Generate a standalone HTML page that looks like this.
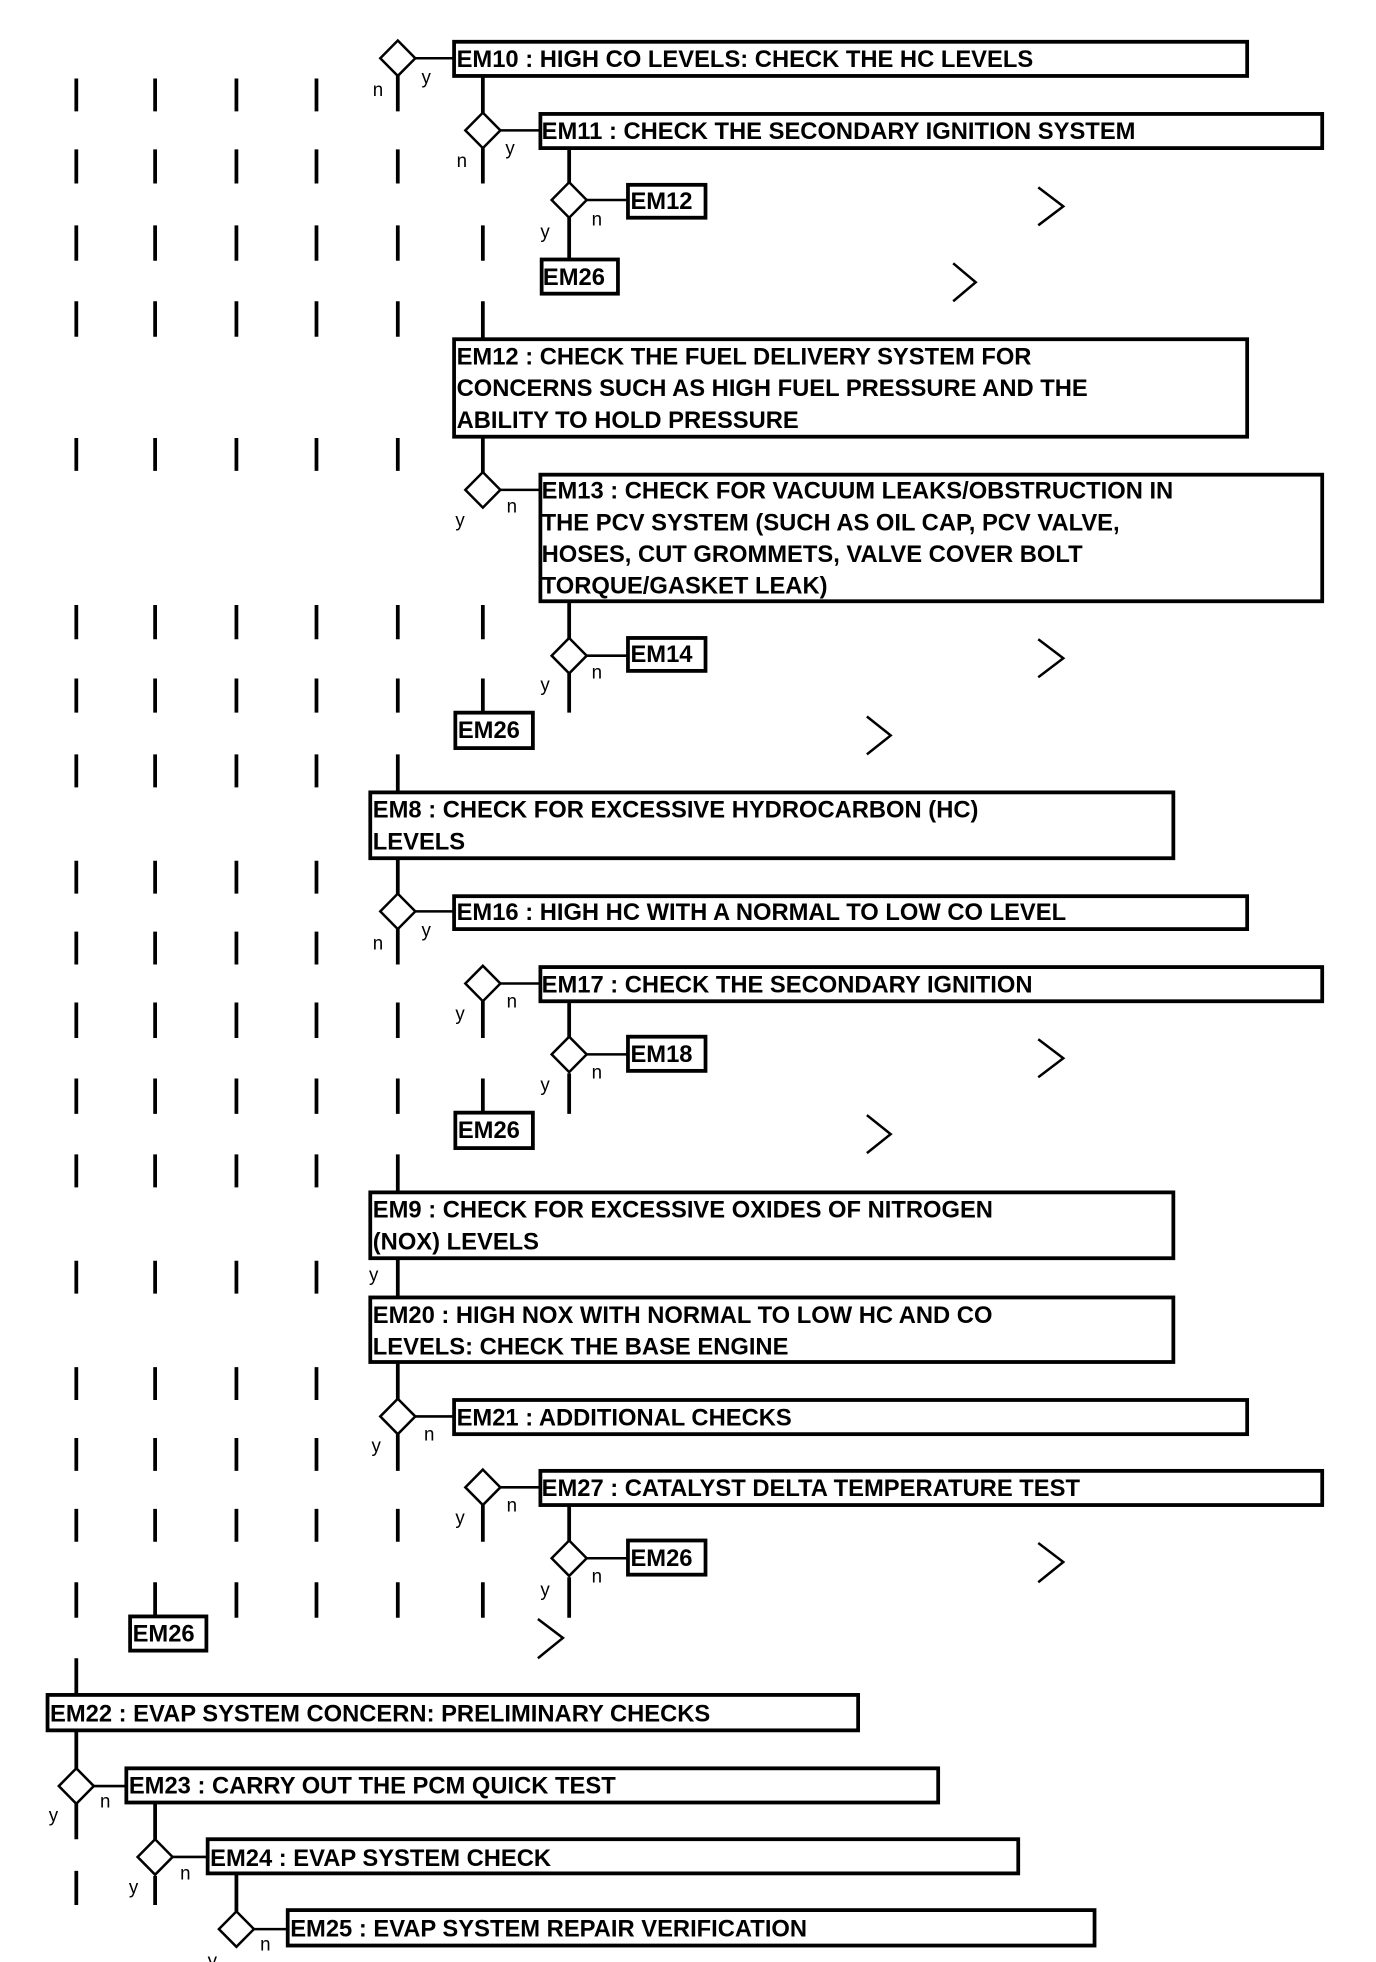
<!DOCTYPE html>
<html><head><meta charset="utf-8"><style>
html,body{margin:0;padding:0;background:#fff;}
svg{display:block;}
text{font-family:"Liberation Sans",Arial,sans-serif;font-weight:bold;font-size:19px;fill:#000;}
.l{font-weight:normal;font-size:15px;}
</style></head><body>
<svg width="1376" height="1962" viewBox="0 0 1100 1550" preserveAspectRatio="none" xmlns="http://www.w3.org/2000/svg">
<g stroke="#000" stroke-width="3" fill="none">
<!-- dashes -->
<path d="
M61 62V88M124 62V88M189 62V88M253 62V88M318 60V88
M61 118V145M124 118V145M189 118V145M253 118V145M318 118V145M386 117V145
M61 178V206M124 178V206M189 178V206M253 178V206M318 178V206M386 178V206
M61 238V266M124 238V266M189 238V266M253 238V266M318 238V266M386 238V268
M61 346V372M124 346V372M189 346V372M253 346V372M318 346V372M386 345V374
M61 478V505M124 478V505M189 478V505M253 478V505M318 478V505M386 478V505
M61 536V563M124 536V563M189 536V563M253 536V563M318 536V563M386 536V563
M61 596V622M124 596V622M189 596V622M253 596V622M318 596V625
M61 680V706M124 680V706M189 680V706M253 680V706M318 678V707
M61 736V762M124 736V762M189 736V762M253 736V762M318 734V762
M61 792V820M124 792V820M189 792V820M253 792V820M318 792V820M386 791V820
M61 852V880M124 852V880M189 852V880M253 852V880M318 852V880M386 852V878
M61 912V938M124 912V938M189 912V938M253 912V938M318 912V941
M61 996V1022M124 996V1022M189 996V1022M253 996V1022M318 994V1024
M61 1080V1106M124 1080V1106M189 1080V1106M253 1080V1106M318 1076V1106
M61 1136V1162M124 1136V1162M189 1136V1162M253 1136V1162M318 1133V1162
M61 1192V1218M124 1192V1218M189 1192V1218M253 1192V1218M318 1192V1218M386 1189V1218
M61 1250V1278M124 1250V1276M189 1250V1278M253 1250V1278M318 1250V1278M386 1250V1278
M61 1310V1338
M386 60V89M386 117V145
M455 117V145M455 172V204
M455 475V505M455 532V563
M455 791V820M455 848V880
M455 1189V1218M455 1246V1278
M61 1367V1397M61 1425V1453M61 1478V1505
M124 1424V1453M124 1482V1505
M189 1480V1510
"/>
<!-- horizontal connectors -->
<path stroke-width="2" d="
M332 46H362M400 103H431M469 158H501M400 387H431M469 518H501
M332 720H362M400 777H431M469 833H501M332 1119H362M400 1175H431M469 1231H501
M75 1411H100M138 1467H165M203 1524H229"/>
<!-- diamonds -->
<g stroke-width="2" fill="#fff">
<path d="M318 32L332 46L318 60L304 46Z"/>
<path d="M386 89L400 103L386 117L372 103Z"/>
<path d="M455 144L469 158L455 172L441 158Z"/>
<path d="M386 373L400 387L386 401L372 387Z"/>
<path d="M455 504L469 518L455 532L441 518Z"/>
<path d="M318 706L332 720L318 734L304 720Z"/>
<path d="M386 763L400 777L386 791L372 777Z"/>
<path d="M455 819L469 833L455 847L441 833Z"/>
<path d="M318 1105L332 1119L318 1133L304 1119Z"/>
<path d="M386 1161L400 1175L386 1189L372 1175Z"/>
<path d="M455 1217L469 1231L455 1245L441 1231Z"/>
<path d="M61 1397L75 1411L61 1425L47 1411Z"/>
<path d="M124 1453L138 1467L124 1481L110 1467Z"/>
<path d="M189 1510L203 1524L189 1538L175 1524Z"/>
</g>
<!-- boxes -->
<rect x="363" y="33" width="634" height="27"/>
<rect x="432" y="90" width="625" height="27"/>
<rect x="502" y="146" width="62" height="26"/>
<rect x="433" y="205" width="61" height="27"/>
<rect x="363" y="268" width="634" height="77"/>
<rect x="432" y="375" width="625" height="100"/>
<rect x="502" y="504" width="62" height="26"/>
<rect x="364" y="563" width="62" height="28"/>
<rect x="296" y="626" width="642" height="52"/>
<rect x="363" y="708" width="634" height="26"/>
<rect x="432" y="764" width="625" height="27"/>
<rect x="502" y="819" width="62" height="27"/>
<rect x="364" y="879" width="62" height="28"/>
<rect x="296" y="942" width="642" height="52"/>
<rect x="296" y="1025" width="642" height="51"/>
<rect x="363" y="1106" width="634" height="27"/>
<rect x="432" y="1162" width="625" height="27"/>
<rect x="502" y="1217" width="62" height="27"/>
<rect x="104" y="1277" width="61" height="27"/>
<rect x="38" y="1339" width="648" height="28"/>
<rect x="101" y="1397" width="649" height="27"/>
<rect x="166" y="1453" width="648" height="27"/>
<rect x="230" y="1509" width="645" height="28"/>
<!-- chevrons -->
<g stroke-width="2">
<path d="M830 148L850 163L830 178"/>
<path d="M762 208L780 223L762 238"/>
<path d="M830 505L850 520L830 535"/>
<path d="M693 566L712 581L693 596"/>
<path d="M830 821L850 836L830 851"/>
<path d="M693 881L712 896L693 911"/>
<path d="M830 1219L850 1234L830 1250"/>
<path d="M430 1279L450 1294L430 1310"/>
</g>
</g>
<!-- texts -->
<text x="365" y="53">EM10 : HIGH CO LEVELS: CHECK THE HC LEVELS</text>
<text x="433" y="110">EM11 : CHECK THE SECONDARY IGNITION SYSTEM</text>
<text x="504" y="165">EM12</text>
<text x="434" y="225">EM26</text>
<text x="365" y="288">EM12 : CHECK THE FUEL DELIVERY SYSTEM FOR</text>
<text x="365" y="313">CONCERNS SUCH AS HIGH FUEL PRESSURE AND THE</text>
<text x="365" y="338">ABILITY TO HOLD PRESSURE</text>
<text x="433" y="394">EM13 : CHECK FOR VACUUM LEAKS/OBSTRUCTION IN</text>
<text x="433" y="419">THE PCV SYSTEM (SUCH AS OIL CAP, PCV VALVE,</text>
<text x="433" y="444">HOSES, CUT GROMMETS, VALVE COVER BOLT</text>
<text x="433" y="469">TORQUE/GASKET LEAK)</text>
<text x="504" y="523">EM14</text>
<text x="366" y="583">EM26</text>
<text x="298" y="646">EM8 : CHECK FOR EXCESSIVE HYDROCARBON (HC)</text>
<text x="298" y="671">LEVELS</text>
<text x="365" y="727">EM16 : HIGH HC WITH A NORMAL TO LOW CO LEVEL</text>
<text x="433" y="784">EM17 : CHECK THE SECONDARY IGNITION</text>
<text x="504" y="839">EM18</text>
<text x="366" y="899">EM26</text>
<text x="298" y="962">EM9 : CHECK FOR EXCESSIVE OXIDES OF NITROGEN</text>
<text x="298" y="987">(NOX) LEVELS</text>
<text x="298" y="1045">EM20 : HIGH NOX WITH NORMAL TO LOW HC AND CO</text>
<text x="298" y="1070">LEVELS: CHECK THE BASE ENGINE</text>
<text x="365" y="1126">EM21 : ADDITIONAL CHECKS</text>
<text x="433" y="1182">EM27 : CATALYST DELTA TEMPERATURE TEST</text>
<text x="504" y="1237">EM26</text>
<text x="106" y="1297">EM26</text>
<text x="40" y="1360">EM22 : EVAP SYSTEM CONCERN: PRELIMINARY CHECKS</text>
<text x="103" y="1417">EM23 : CARRY OUT THE PCM QUICK TEST</text>
<text x="168" y="1474">EM24 : EVAP SYSTEM CHECK</text>
<text x="232" y="1530">EM25 : EVAP SYSTEM REPAIR VERIFICATION</text>
<!-- y/n labels -->
<text class="l" x="298" y="76">n</text><text class="l" x="337" y="66">y</text>
<text class="l" x="365" y="132">n</text><text class="l" x="404" y="122">y</text>
<text class="l" x="432" y="188">y</text><text class="l" x="473" y="178">n</text>
<text class="l" x="364" y="416">y</text><text class="l" x="405" y="405">n</text>
<text class="l" x="432" y="546">y</text><text class="l" x="473" y="536">n</text>
<text class="l" x="298" y="750">n</text><text class="l" x="337" y="740">y</text>
<text class="l" x="364" y="806">y</text><text class="l" x="405" y="796">n</text>
<text class="l" x="432" y="862">y</text><text class="l" x="473" y="852">n</text>
<text class="l" x="295" y="1012">y</text>
<text class="l" x="297" y="1147">y</text><text class="l" x="339" y="1138">n</text>
<text class="l" x="364" y="1204">y</text><text class="l" x="405" y="1194">n</text>
<text class="l" x="432" y="1261">y</text><text class="l" x="473" y="1250">n</text>
<text class="l" x="39" y="1439">y</text><text class="l" x="80" y="1428">n</text>
<text class="l" x="103" y="1496">y</text><text class="l" x="144" y="1485">n</text>
<text class="l" x="166" y="1554">y</text><text class="l" x="208" y="1541">n</text>
</svg>
</body></html>
